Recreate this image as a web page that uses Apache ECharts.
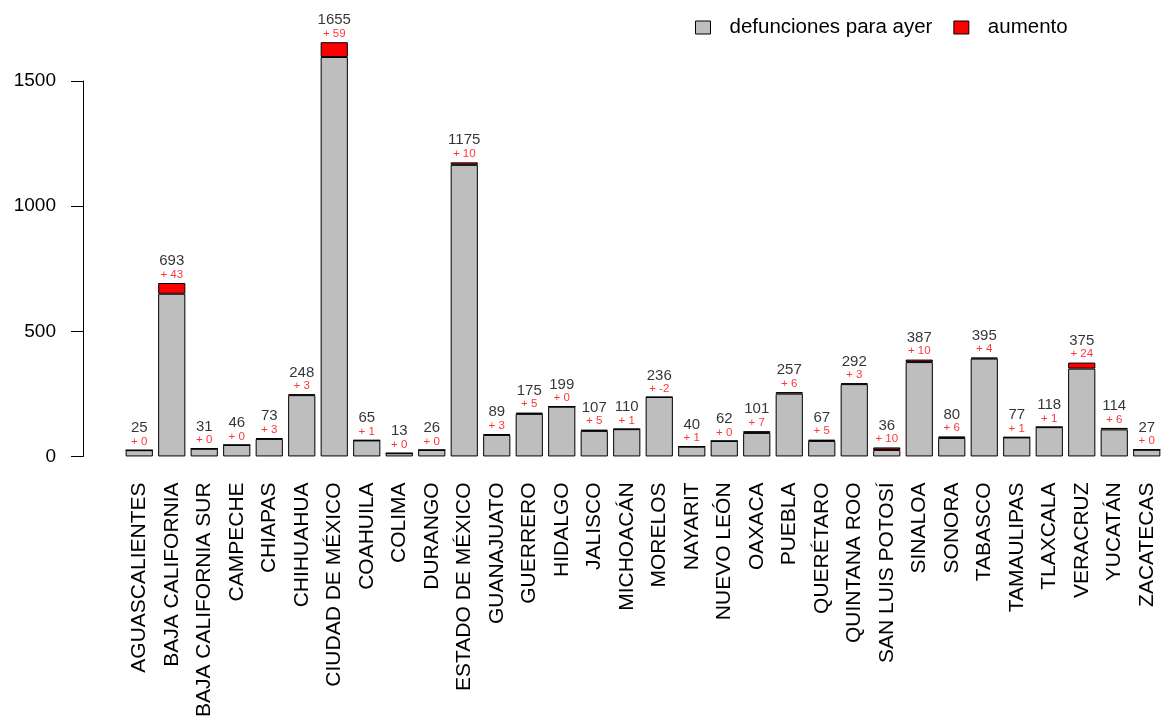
<!DOCTYPE html>
<html>
<head>
<meta charset="utf-8">
<script src="https://cdn.jsdelivr.net/npm/echarts@6/dist/echarts.min.js"></script>
<style>
  html, body { margin: 0; padding: 0; background: #fff; }
  #chart { width: 1163px; height: 720px; }
</style>
</head>
<body>
<div id="chart"></div>
<script>
// estados
var estados = ['AGUASCALIENTES','BAJA CALIFORNIA','BAJA CALIFORNIA SUR','CAMPECHE','CHIAPAS','CHIHUAHUA',
  'CIUDAD DE MÉXICO','COAHUILA','COLIMA','DURANGO','ESTADO DE MÉXICO','GUANAJUATO','GUERRERO','HIDALGO',
  'JALISCO','MICHOACÁN','MORELOS','NAYARIT','NUEVO LEÓN','OAXACA','PUEBLA','QUERÉTARO','QUINTANA ROO',
  'SAN LUIS POTOSÍ','SINALOA','SONORA','TABASCO','TAMAULIPAS','TLAXCALA','VERACRUZ','YUCATÁN','ZACATECAS'];
// defunciones para ayer
var ayer = [25,650,31,46,70,245,1596,64,13,26,1165,86,170,199,102,109,238,39,62,94,251,62,289,26,377,74,391,76,117,351,108,27];
// aumento
var aumento = [0,43,0,0,3,3,59,1,0,0,10,3,5,0,5,1,-2,1,0,7,6,5,3,10,10,6,4,1,1,24,6,0];
// total de hoy (etiquetas)
var total = [25,693,31,46,73,248,1655,65,13,26,1175,89,175,199,107,110,236,40,62,101,257,67,292,36,387,80,395,77,118,375,114,27];
var yTicks = [0, 500, 1000, 1500];

var fuente = 'Liberation Sans, Arial, sans-serif';
var myChart = echarts.init(document.getElementById('chart'));
myChart.setOption({
    animation: false,
    textStyle: { fontFamily: fuente },
    grid: { left: 123, top: 81, width: 1043.6, height: 377 },
    legend: {
        data: ['defunciones para ayer', 'aumento'],
        left: 695,
        top: 17,
        padding: 0,
        icon: 'rect',
        itemWidth: 15,
        itemHeight: 13,
        itemGap: 21,
        itemStyle: { borderWidth: 1, borderColor: '#000' },
        textStyle: { fontSize: 20.5, color: '#000', fontFamily: fuente, padding: [0, 0, 0, 14] }
    },
    xAxis: {
        type: 'category',
        data: estados,
        axisLine: { show: false },
        axisTick: { show: false },
        axisLabel: {
            rotate: 90,
            margin: 26,
            interval: 0,
            fontSize: 21,
            color: '#000',
            fontFamily: fuente
        }
    },
    yAxis: {
        type: 'value',
        min: yTicks[0],
        max: yTicks[yTicks.length - 1],
        interval: 500,
        offset: 40,
        splitLine: { show: false },
        axisLine: { show: true, lineStyle: { color: '#000', width: 1 } },
        axisTick: { show: true, length: 12, lineStyle: { color: '#000', width: 1 } },
        axisLabel: {
            margin: 27, fontSize: 19, color: '#000', fontFamily: fuente,
            formatter: function (v) { return String(v); }
        }
    },
    series: [
        {
            name: 'defunciones para ayer',
            type: 'bar',
            stack: 'hoy',
            stackStrategy: 'all',
            barWidth: 27.2,
            clip: false,
            itemStyle: { color: '#BEBEBE', borderColor: '#000', borderWidth: 1 },
            data: ayer
        },
        {
            name: 'aumento',
            type: 'bar',
            stack: 'hoy',
            stackStrategy: 'all',
            barWidth: 27.2,
            clip: false,
            itemStyle: { color: '#FF0000', borderColor: '#000', borderWidth: 1 },
            data: aumento
        },
        {
            name: 'etiquetas',
            type: 'scatter',
            symbolSize: 1,
            clip: false,
            silent: true,
            itemStyle: { color: 'rgba(0,0,0,0)' },
            label: {
                show: true,
                position: 'top',
                distance: 1.5,
                formatter: function (p) {
                    return '{a|' + total[p.dataIndex] + '}\n{b|+ ' + aumento[p.dataIndex] + '}';
                },
                rich: {
                    a: { fontSize: 15, lineHeight: 14, color: '#000', fontFamily: fuente, align: 'center' },
                    b: { fontSize: 11.5, lineHeight: 13, color: '#FF0000', fontFamily: fuente, align: 'center' }
                }
            },
            data: total
        }
    ]
});
</script>
</body>
</html>
